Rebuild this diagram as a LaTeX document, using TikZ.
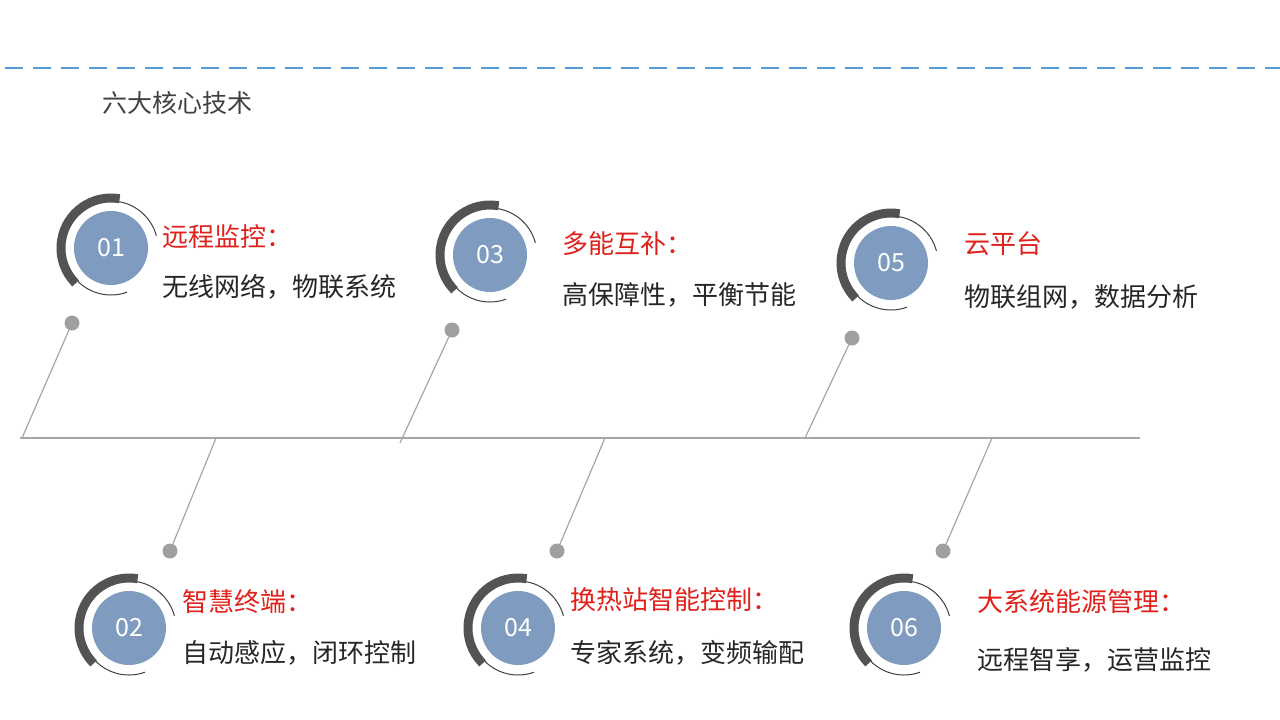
\documentclass[tikz,border=0pt]{standalone}
\usepackage{fontspec}
\setmainfont{Noto Sans CJK SC}
\definecolor{cblue}{HTML}{7F9CC0}
\definecolor{cred}{HTML}{E0201A}
\definecolor{cdark}{HTML}{404040}
\definecolor{dashblue}{HTML}{5B9BD5}
\begin{document}
\begin{tikzpicture}[x=1pt,y=-1pt,
  disc/.style={circle,fill=cblue,minimum size=74pt,inner sep=0pt,text=white,font=\fontsize{25}{25}\selectfont},
  ttl/.style={anchor=west,text=cred,font=\fontsize{26}{26}\selectfont,inner sep=0pt},
  sub/.style={anchor=west,text=black!85,font=\fontsize{26}{26}\selectfont,inner sep=0pt},
  dot/.style={circle,fill=gray!75,minimum size=15pt,inner sep=0pt},
  ln/.style={draw=gray!70,line width=1.2pt}]
\useasboundingbox (0,0) rectangle (1280,720);
\draw[dashblue,line width=2pt,dash pattern=on 18pt off 10pt] (5,68) -- (1280,68);
\node[anchor=west,text=cdark,font=\fontsize{25}{25}\selectfont,inner sep=0pt] (hd) at (102,103) {六大核心技术};
\coordinate (L) at (20,438); \coordinate (R) at (1140,438);
\draw[ln] (L) -- (R);
\foreach \n/\x/\y in {01/111/248,03/490/255,05/891/263,02/129/628,04/518/628,06/904/628}{
  \node[disc] (c\n) at (\x,\y) {\n};
  \draw[cdark!90,line width=9pt] ([shift={(-80:50)}]\x,\y) arc[start angle=-80,end angle=-225,radius=50];
  \draw[cdark,line width=1pt] ([shift={(-80:47)}]\x,\y) arc[start angle=-80,end angle=-15,radius=47];
  \draw[cdark,line width=1pt] ([shift={(-225:47)}]\x,\y) arc[start angle=-225,end angle=-290,radius=47];
}
\node[dot] (d1) at (72,323) {}; \coordinate (b1) at (22,438);
\node[dot] (d3) at (452,330) {}; \coordinate (b3) at (400,443);
\node[dot] (d5) at (852,338) {}; \coordinate (b5) at (805,438);
\node[dot] (d2) at (170,551) {}; \coordinate (b2) at (216,438);
\node[dot] (d4) at (557,551) {}; \coordinate (b4) at (605,438);
\node[dot] (d6) at (943,551) {}; \coordinate (b6) at (992,438);
\foreach \i in {1,...,6}{\draw[ln] (d\i) -- (b\i);}
\node[ttl] (t1) at (162,237) {远程监控：};
\node[sub] (s1) at (162,287) {无线网络，物联系统};
\node[ttl] (t3) at (562,244) {多能互补：};
\node[sub] (s3) at (562,295) {高保障性，平衡节能};
\node[ttl] (t5) at (964,244) {云平台};
\node[sub] (s5) at (964,297) {物联组网，数据分析};
\node[ttl] (t2) at (182,602) {智慧终端：};
\node[sub] (s2) at (182,653) {自动感应，闭环控制};
\node[ttl] (t4) at (570,600) {换热站智能控制：};
\node[sub] (s4) at (570,653) {专家系统，变频输配};
\node[ttl] (t6) at (977,602) {大系统能源管理：};
\node[sub] (s6) at (977,660) {远程智享，运营监控};
\end{tikzpicture}
\end{document}
